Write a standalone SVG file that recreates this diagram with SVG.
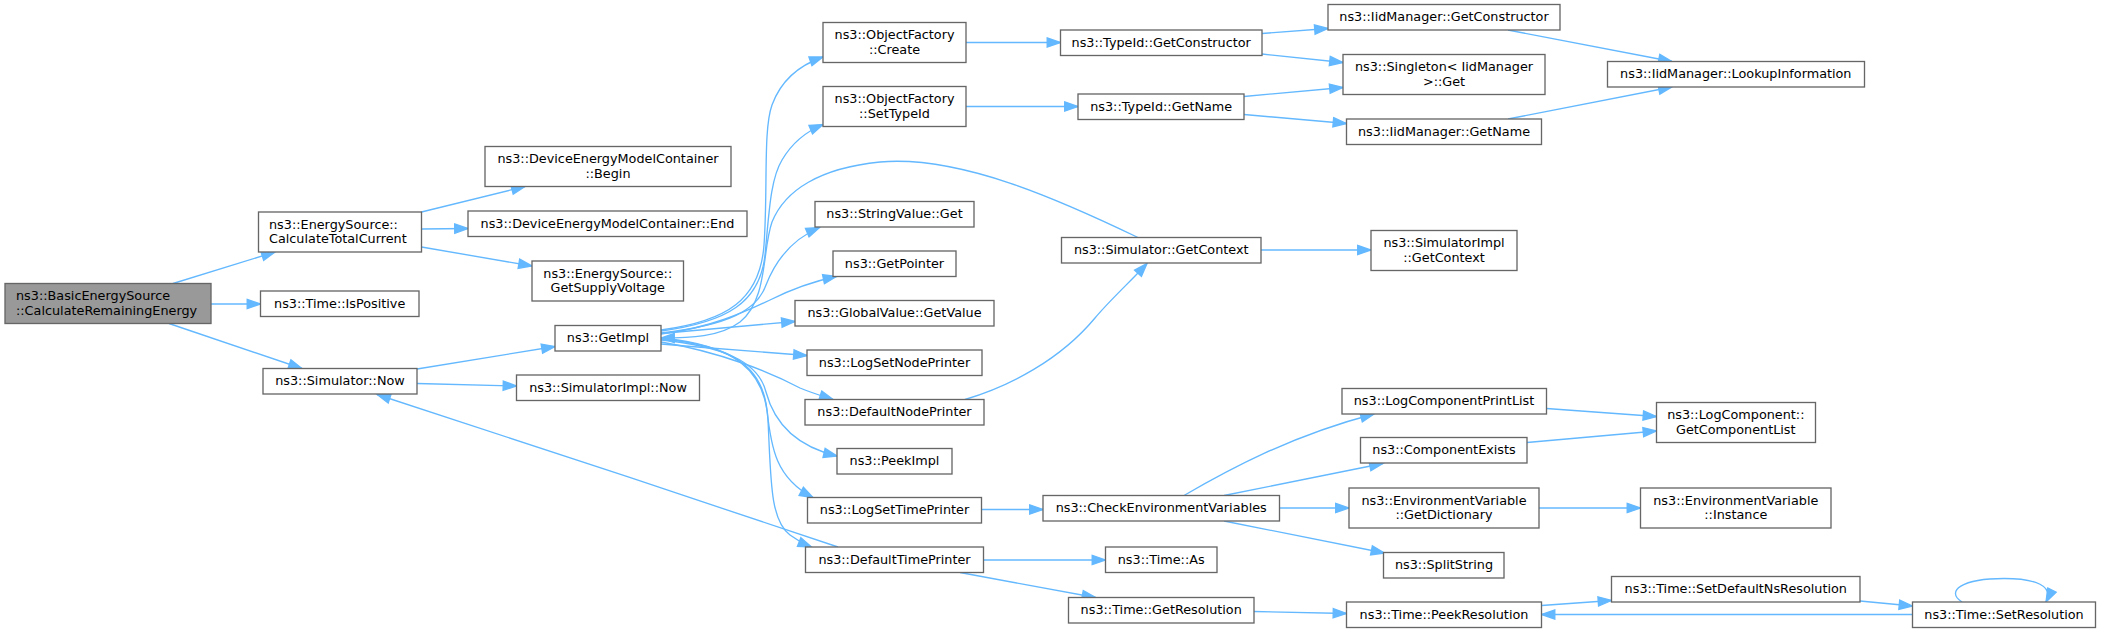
<svg xmlns="http://www.w3.org/2000/svg" width="2101" height="632" viewBox="0 0 2101 632">
<style>
.n rect{fill:#ffffff;stroke:#666666;stroke-width:1.33}
.n text{font-family:"DejaVu Sans","Liberation Sans",sans-serif;font-size:12.8px;fill:#000000;text-anchor:middle}
.n text.l{text-anchor:start}
#n_root rect{fill:#999999}
.e path{fill:none;stroke:#63b8ff;stroke-width:1.33;marker-end:url(#ah)}
</style>
<defs>
<marker id="ah" markerUnits="userSpaceOnUse" markerWidth="16" markerHeight="12" refX="13.3" refY="4.67" orient="auto" overflow="visible">
<path d="M0,0 L13.3,4.67 L0,9.33 Z" fill="#63b8ff" stroke="#63b8ff" stroke-width="1.33"/>
</marker>
</defs>
<rect width="2101" height="632" fill="#ffffff"/>
<g id="edges" class="e">
<path d="M173,283.5 L275,252"/>
<path d="M211,304 L260.5,304"/>
<path d="M169,323.5 L302,368.5"/>
<path d="M421.5,212 L525,186.5"/>
<path d="M421.5,229 L468,228.5"/>
<path d="M421.5,247 L532,266"/>
<path d="M417,369 L555,346.5"/>
<path d="M417,383.5 L516.5,386"/>
<path d="M661,330 C727,321 760,300 764,245 C768,190 763,130 772,105 C780,83 797,66 823,57"/>
<path d="M661,331 C728,322 760,302 765,255 C769,215 770,180 782,160 C792,143 805,132 823,124.5"/>
<path d="M661,333 C730,325 757,310 766,285 C775,262 790,240 819.5,227.5"/>
<path d="M661,334 C710,328 745,312 770,300 C790,290 810,282 836.5,276.5"/>
<path d="M661,333.5 C700,330 740,326 795,321.5"/>
<path d="M661,344 C710,348 760,352 807,355.5"/>
<path d="M661,342 C720,352 770,372 800,388 C812,393 822,396 833,399.5"/>
<path d="M661,340 C720,346 758,360 766,392 C774,422 795,446 837,456"/>
<path d="M661,339 C730,345 762,365 767,410 C771,448 776,478 813,497.5"/>
<path d="M661,338 C735,345 765,370 768,420 C771,480 770,520 790,535 C798,541 804,544 811.5,547"/>
<path d="M1138,237.5 C1060,200 960,155 880,162 C820,168 785,190 772,222 C762,250 768,300 740,322 C720,337 690,338 661,338"/>
<path d="M838,547 C700,500 500,435 377,394.5"/>
<path d="M966,42.5 L1060.5,42.5"/>
<path d="M966,106.5 L1078,106.5"/>
<path d="M965,399.5 C1010,386 1060,360 1095,318 C1110,300 1130,282 1147,263.5"/>
<path d="M981.5,509.5 L1043,509.5"/>
<path d="M983.5,560 L1105.5,560"/>
<path d="M960,572.5 L1095.5,597.5"/>
<path d="M1262,33.5 L1328,28.5"/>
<path d="M1262,54 L1343,62.5"/>
<path d="M1244,96.5 L1343,87.5"/>
<path d="M1244,114.5 L1346.5,123.5"/>
<path d="M1261,250 L1371,250"/>
<path d="M1184,495.5 C1228,470 1290,436 1374,414"/>
<path d="M1224,495.5 L1383,463.5"/>
<path d="M1279.5,508 L1349,508"/>
<path d="M1224,521 L1384.5,553"/>
<path d="M1254,611.5 L1346.5,613.5"/>
<path d="M1508,30 L1672,61.5"/>
<path d="M1508,119 L1672,87"/>
<path d="M1546.5,408.5 L1656.5,416.5"/>
<path d="M1527,442.5 L1656.5,431"/>
<path d="M1539,508 L1640.5,508"/>
<path d="M1541.5,605.5 L1611.5,600.5"/>
<path d="M1860,601 L1912.5,606"/>
<path d="M1912.5,614.5 L1541.5,614.5"/>
<path d="M1962,602 C1945,591 1962,578.5 2004,578.5 C2036,578.5 2054,586 2046,602"/>
</g>
<g id="n_root" class="n"><rect x="5" y="283.5" width="206" height="40"/><text class="l" x="16" y="300.3">ns3::BasicEnergySource</text><text class="l" x="16" y="315">::CalculateRemainingEnergy</text></g>
<g id="n_ctc" class="n"><rect x="258.5" y="212" width="163" height="40"/><text class="l" x="269" y="228.5">ns3::EnergySource::</text><text class="l" x="269" y="243">CalculateTotalCurrent</text></g>
<g id="n_ispos" class="n"><rect x="260.5" y="291" width="158.5" height="25.5"/><text x="339.7" y="307.5">ns3::Time::IsPositive</text></g>
<g id="n_simnow" class="n"><rect x="263" y="368.5" width="154" height="25.5"/><text x="340" y="385">ns3::Simulator::Now</text></g>
<g id="n_begin" class="n"><rect x="485" y="146.5" width="246" height="40"/><text x="608" y="163">ns3::DeviceEnergyModelContainer</text><text x="608" y="177.5">::Begin</text></g>
<g id="n_end" class="n"><rect x="468" y="211" width="279" height="25.5"/><text x="607.5" y="227.5">ns3::DeviceEnergyModelContainer::End</text></g>
<g id="n_supply" class="n"><rect x="532" y="261" width="151.5" height="40"/><text x="607.8" y="277.5">ns3::EnergySource::</text><text x="607.8" y="292">GetSupplyVoltage</text></g>
<g id="n_getimpl" class="n"><rect x="555" y="325.5" width="106" height="25.5"/><text x="608" y="342">ns3::GetImpl</text></g>
<g id="n_simimplnow" class="n"><rect x="516.5" y="375" width="183" height="25.5"/><text x="608" y="391.5">ns3::SimulatorImpl::Now</text></g>
<g id="n_ofcreate" class="n"><rect x="823" y="22.5" width="143" height="40"/><text x="894.5" y="39">ns3::ObjectFactory</text><text x="894.5" y="53.5">::Create</text></g>
<g id="n_ofsettypeid" class="n"><rect x="823" y="86.5" width="143" height="40"/><text x="894.5" y="103">ns3::ObjectFactory</text><text x="894.5" y="117.5">::SetTypeId</text></g>
<g id="n_strget" class="n"><rect x="815" y="201.5" width="159" height="25.5"/><text x="894.5" y="218">ns3::StringValue::Get</text></g>
<g id="n_getptr" class="n"><rect x="833" y="251" width="123" height="25.5"/><text x="894.5" y="267.5">ns3::GetPointer</text></g>
<g id="n_gvget" class="n"><rect x="795" y="300.5" width="199" height="25.5"/><text x="894.5" y="317">ns3::GlobalValue::GetValue</text></g>
<g id="n_lognode" class="n"><rect x="807" y="350" width="175" height="25.5"/><text x="894.5" y="366.5">ns3::LogSetNodePrinter</text></g>
<g id="n_defnode" class="n"><rect x="805" y="399.5" width="179" height="25.5"/><text x="894.5" y="416">ns3::DefaultNodePrinter</text></g>
<g id="n_peek" class="n"><rect x="837" y="448.5" width="115" height="25.5"/><text x="894.5" y="465">ns3::PeekImpl</text></g>
<g id="n_logtime" class="n"><rect x="807.5" y="497.5" width="174" height="25.5"/><text x="894.5" y="514">ns3::LogSetTimePrinter</text></g>
<g id="n_deftime" class="n"><rect x="805.5" y="547" width="178" height="25.5"/><text x="894.5" y="563.5">ns3::DefaultTimePrinter</text></g>
<g id="n_tgc" class="n"><rect x="1060.5" y="30" width="201.5" height="25.5"/><text x="1161.2" y="46.5">ns3::TypeId::GetConstructor</text></g>
<g id="n_tgn" class="n"><rect x="1078" y="94" width="166" height="25.5"/><text x="1161.2" y="110.5">ns3::TypeId::GetName</text></g>
<g id="n_simctx" class="n"><rect x="1061.5" y="237.5" width="199.5" height="25.5"/><text x="1161.2" y="254">ns3::Simulator::GetContext</text></g>
<g id="n_cev" class="n"><rect x="1043" y="495.5" width="236.5" height="25.5"/><text x="1161.2" y="512">ns3::CheckEnvironmentVariables</text></g>
<g id="n_as" class="n"><rect x="1105.5" y="547" width="111.5" height="25.5"/><text x="1161.2" y="563.5">ns3::Time::As</text></g>
<g id="n_getres" class="n"><rect x="1068.5" y="597.5" width="185.5" height="25.5"/><text x="1161.2" y="614">ns3::Time::GetResolution</text></g>
<g id="n_iidgc" class="n"><rect x="1328" y="4.5" width="232" height="25.5"/><text x="1444" y="21">ns3::IidManager::GetConstructor</text></g>
<g id="n_singleton" class="n"><rect x="1343" y="54.5" width="202" height="40"/><text x="1444" y="71">ns3::Singleton&lt; IidManager</text><text x="1444" y="85.5">&gt;::Get</text></g>
<g id="n_iidgn" class="n"><rect x="1346.5" y="119" width="195" height="25.5"/><text x="1444" y="135.5">ns3::IidManager::GetName</text></g>
<g id="n_simimplctx" class="n"><rect x="1371" y="230.5" width="146" height="40"/><text x="1444" y="247">ns3::SimulatorImpl</text><text x="1444" y="261.5">::GetContext</text></g>
<g id="n_lcpl" class="n"><rect x="1342" y="388.5" width="204.5" height="25.5"/><text x="1444" y="405">ns3::LogComponentPrintList</text></g>
<g id="n_compex" class="n"><rect x="1360.5" y="437.5" width="166.5" height="25.5"/><text x="1444" y="454">ns3::ComponentExists</text></g>
<g id="n_getdict" class="n"><rect x="1349" y="488" width="190" height="40"/><text x="1444" y="504.5">ns3::EnvironmentVariable</text><text x="1444" y="519">::GetDictionary</text></g>
<g id="n_split" class="n"><rect x="1383.5" y="552.5" width="120.5" height="25.5"/><text x="1444" y="569">ns3::SplitString</text></g>
<g id="n_peekres" class="n"><rect x="1346.5" y="602" width="195" height="25.5"/><text x="1444" y="618.5">ns3::Time::PeekResolution</text></g>
<g id="n_lookup" class="n"><rect x="1607.5" y="61.5" width="257" height="25.5"/><text x="1735.8" y="78">ns3::IidManager::LookupInformation</text></g>
<g id="n_gcl" class="n"><rect x="1656.5" y="402.5" width="159" height="40"/><text x="1735.8" y="419">ns3::LogComponent::</text><text x="1735.8" y="433.5">GetComponentList</text></g>
<g id="n_inst" class="n"><rect x="1640.5" y="488" width="190.5" height="40"/><text x="1735.8" y="504.5">ns3::EnvironmentVariable</text><text x="1735.8" y="519">::Instance</text></g>
<g id="n_setdef" class="n"><rect x="1611.5" y="576.5" width="248.5" height="25.5"/><text x="1735.8" y="593">ns3::Time::SetDefaultNsResolution</text></g>
<g id="n_setres" class="n"><rect x="1912.5" y="602" width="183" height="25.5"/><text x="2004" y="618.5">ns3::Time::SetResolution</text></g>
</svg>
